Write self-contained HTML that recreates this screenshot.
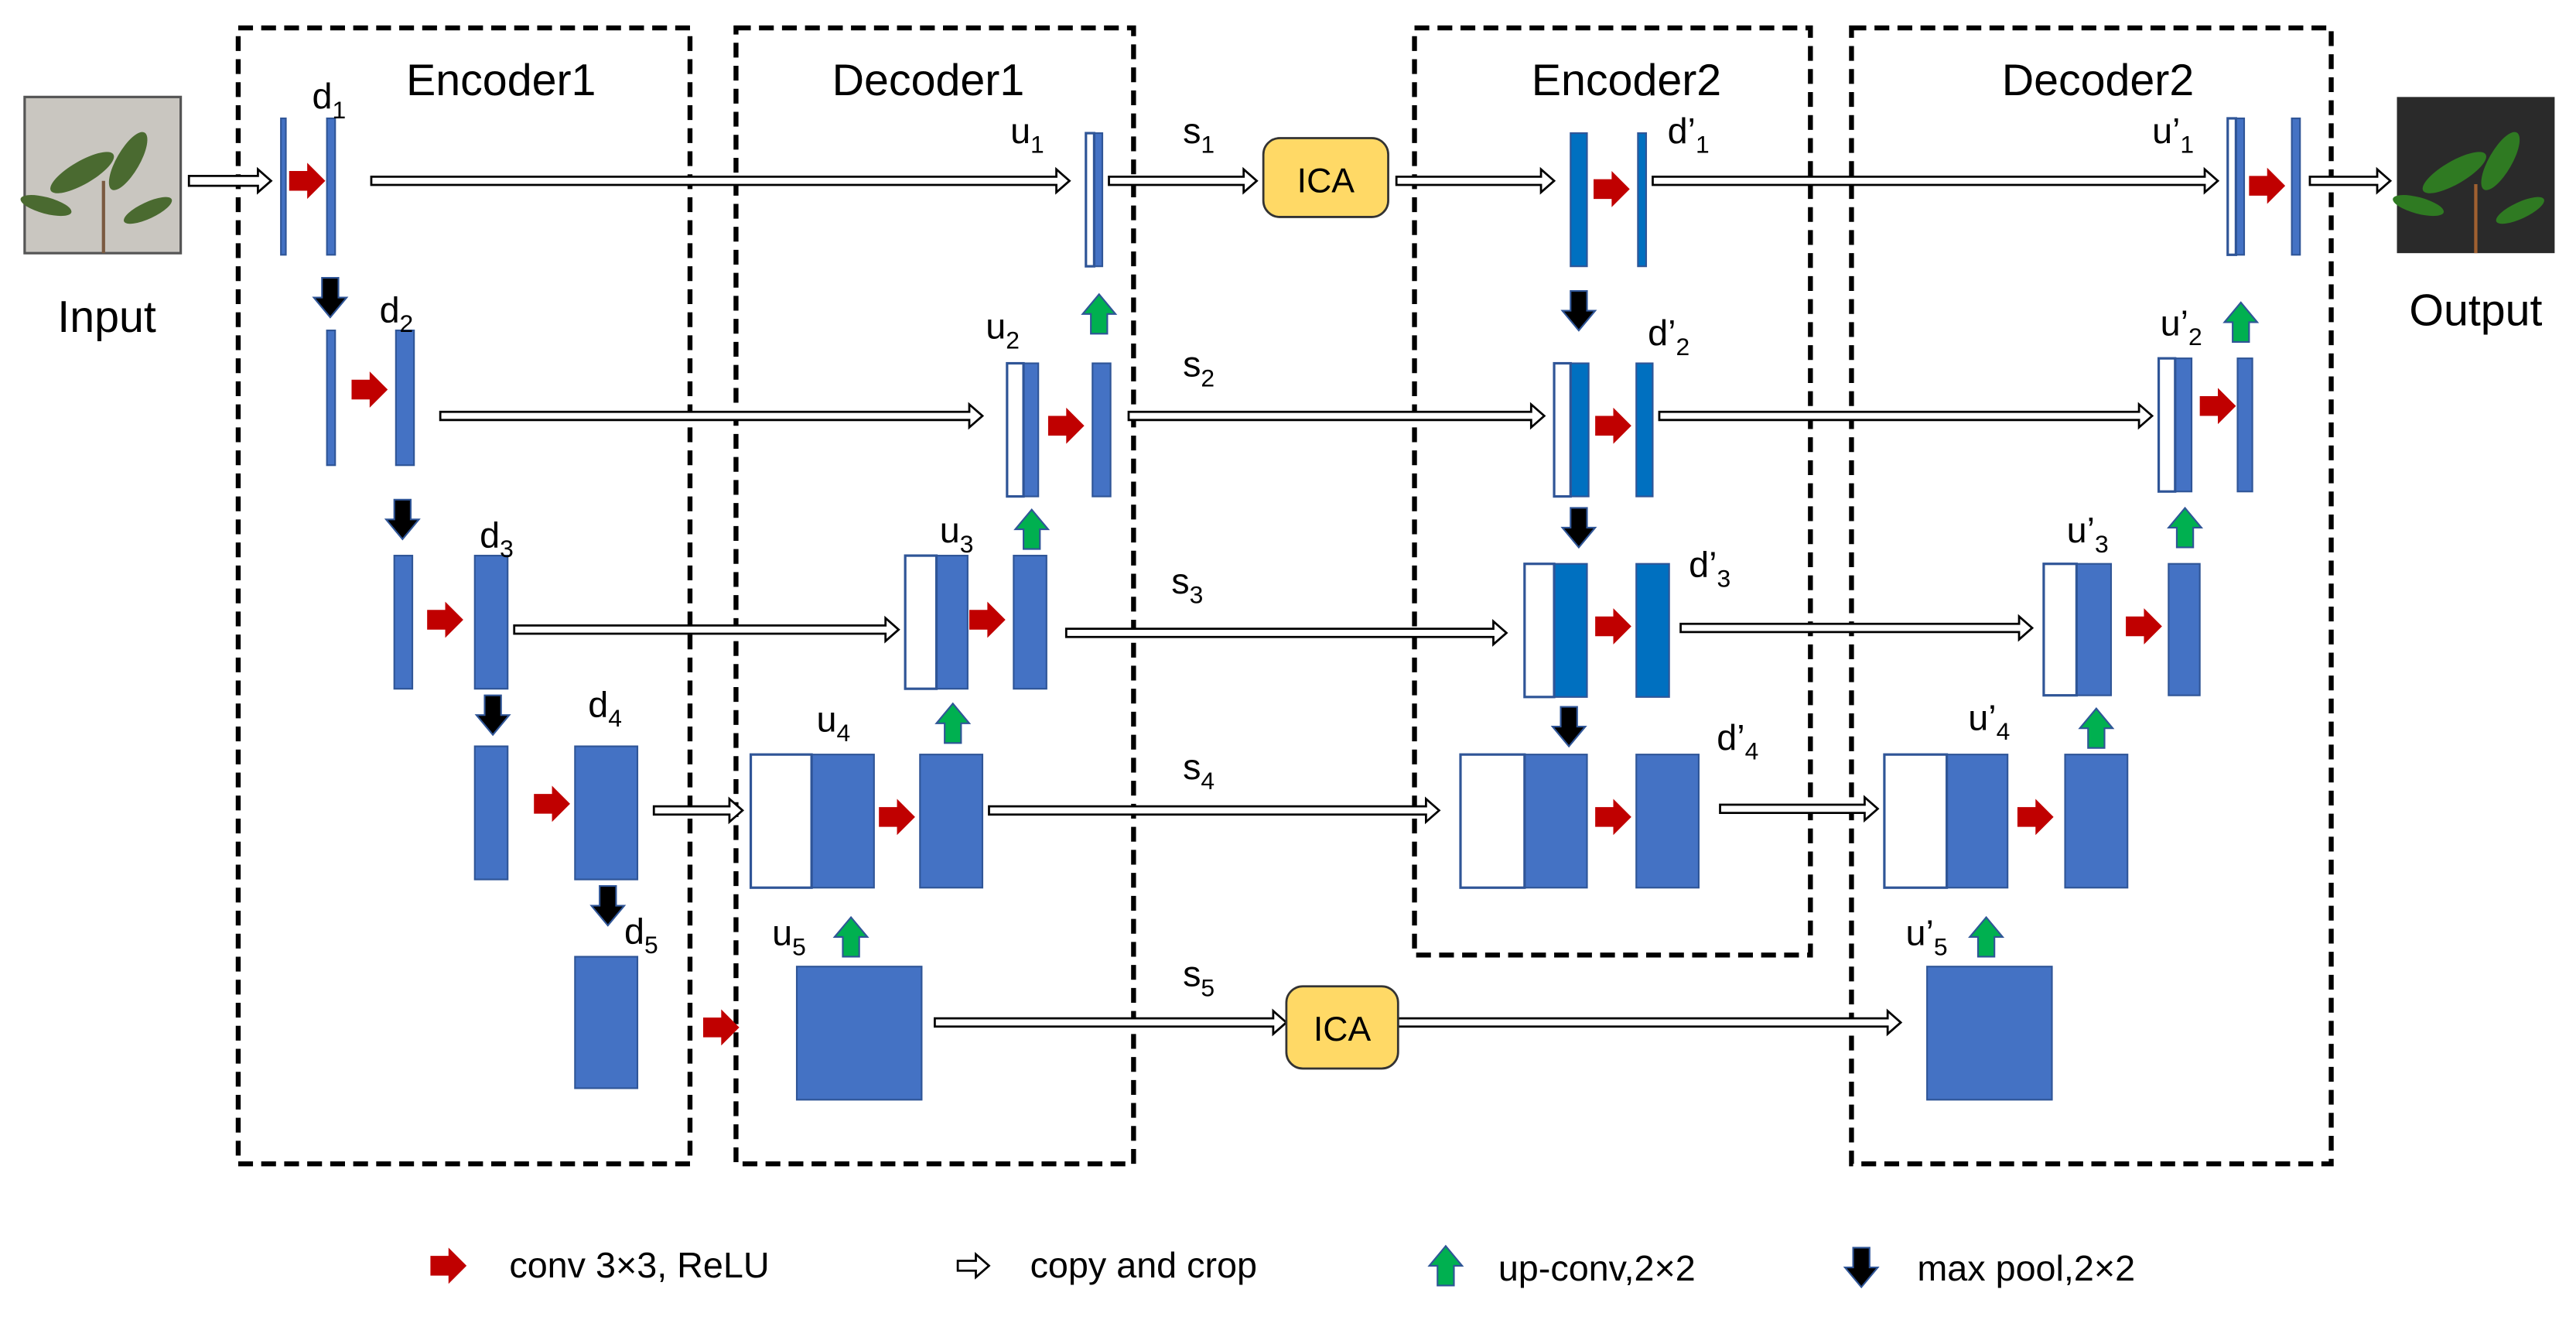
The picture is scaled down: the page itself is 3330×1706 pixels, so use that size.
<!DOCTYPE html>
<html><head><meta charset="utf-8"><style>
html,body{margin:0;padding:0;background:#fff}
svg{display:block}
text{font-family:"Liberation Sans",sans-serif;fill:#000}
</style></head><body>
<svg width="3330" height="1706" viewBox="0 0 1568 803" preserveAspectRatio="none" xmlns="http://www.w3.org/2000/svg">
<defs>
<path id="ra" d="M-11,-6 H0 V-11 L11,0 L0,11 V6 H-11Z" fill="#C00000"/>
<path id="ga" d="M-5,12 V0 H-10 L0,-12 L10,0 H5 V12Z" fill="#00B050" stroke="#2F5597" stroke-width="1"/>
<path id="ka" d="M-5,-12 V0 H-10 L0,12 L10,0 H5 V-12Z" fill="#000" stroke="#2F5597" stroke-width="1"/>
</defs>
<g fill="none" stroke="#000" stroke-width="3" stroke-dasharray="9,5">
<rect x="145" y="17" width="275" height="691"/>
<rect x="448" y="17" width="242" height="691"/>
<rect x="861" y="17" width="241" height="564"/>
<rect x="1127" y="17" width="292" height="691"/>
</g>
<g font-size="27" text-anchor="middle">
<text x="305" y="58">Encoder1</text>
<text x="565" y="58">Decoder1</text>
<text x="990" y="58">Encoder2</text>
<text x="1277" y="58">Decoder2</text>
<text x="65" y="202">Input</text>
<text x="1507" y="198">Output</text>
</g>
<!-- images -->
<rect x="15" y="59" width="95" height="95" fill="#c9c6c0" stroke="#555" stroke-width="1.5"/>
<g fill="#4a6a30">
<ellipse cx="50" cy="105" rx="22" ry="7" transform="rotate(-30 50 105)"/>
<ellipse cx="78" cy="98" rx="20" ry="7" transform="rotate(-60 78 98)"/>
<ellipse cx="28" cy="125" rx="16" ry="5" transform="rotate(15 28 125)"/>
<ellipse cx="90" cy="128" rx="16" ry="5" transform="rotate(-25 90 128)"/>
</g>
<line x1="63" y1="154" x2="63" y2="110" stroke="#7a5a40" stroke-width="2"/>
<rect x="1459" y="59" width="96" height="95" fill="#2a2a2a"/>
<g fill="#2f7a22">
<ellipse cx="1494" cy="105" rx="22" ry="7" transform="rotate(-30 1494 105)"/>
<ellipse cx="1522" cy="98" rx="20" ry="7" transform="rotate(-60 1522 98)"/>
<ellipse cx="1472" cy="125" rx="16" ry="5" transform="rotate(15 1472 125)"/>
<ellipse cx="1534" cy="128" rx="16" ry="5" transform="rotate(-25 1534 128)"/>
</g>
<line x1="1507" y1="154" x2="1507" y2="112" stroke="#a06030" stroke-width="2"/>
<!-- copy arrows -->
<g fill="#fff" stroke="#000" stroke-width="1.3">
<polygon points="115,107 157,107 157,103 165,110 157,117 157,113 115,113"/>
<polygon points="226,107.5 643,107.5 643,103 651,110 643,117 643,112.5 226,112.5"/>
<polygon points="675,107.5 757,107.5 757,103 765,110 757,117 757,112.5 675,112.5"/>
<polygon points="850,107.5 938,107.5 938,103 946,110 938,117 938,112.5 850,112.5"/>
<polygon points="1006,107.5 1342,107.5 1342,103 1350,110 1342,117 1342,112.5 1006,112.5"/>
<polygon points="1406,107.5 1447,107.5 1447,103 1455,110 1447,117 1447,112.5 1406,112.5"/>
<polygon points="268,250.5 590,250.5 590,246 598,253 590,260 590,255.5 268,255.5"/>
<polygon points="687,250.5 932,250.5 932,246 940,253 932,260 932,255.5 687,255.5"/>
<polygon points="1010,250.5 1302,250.5 1302,246 1310,253 1302,260 1302,255.5 1010,255.5"/>
<polygon points="313,380.5 539,380.5 539,376 547,383 539,390 539,385.5 313,385.5"/>
<polygon points="649,382.5 909,382.5 909,378 917,385 909,392 909,387.5 649,387.5"/>
<polygon points="1023,379.5 1229,379.5 1229,375 1237,382 1229,389 1229,384.5 1023,384.5"/>
<polygon points="398,490.5 444,490.5 444,486 452,493 444,500 444,495.5 398,495.5"/>
<polygon points="602,490.5 868,490.5 868,486 876,493 868,500 868,495.5 602,495.5"/>
<polygon points="1047,489.5 1135,489.5 1135,485 1143,492 1135,499 1135,494.5 1047,494.5"/>
<polygon points="569,619.5 775,619.5 775,615 783,622 775,629 775,624.5 569,624.5"/>
<polygon points="851,619.5 1149,619.5 1149,615 1157,622 1149,629 1149,624.5 851,624.5"/>
</g>
<!-- ICA -->
<rect x="769" y="84" width="76" height="48" rx="10" fill="#FFD966" stroke="#333" stroke-width="1.3"/>
<text x="807" y="117" font-size="21" text-anchor="middle">ICA</text>
<rect x="783" y="600" width="68" height="50" rx="10" fill="#FFD966" stroke="#333" stroke-width="1.3"/>
<text x="817" y="633" font-size="21" text-anchor="middle">ICA</text>
<!-- blue bars -->
<g fill="#4472C4" stroke="#2F5597" stroke-width="1">
<rect x="171" y="72" width="3" height="83"/>
<rect x="199" y="72" width="5" height="83"/>
<rect x="199" y="201" width="5" height="82"/>
<rect x="241" y="201" width="11" height="82"/>
<rect x="240" y="338" width="11" height="81"/>
<rect x="289" y="338" width="20" height="81"/>
<rect x="289" y="454" width="20" height="81"/>
<rect x="350" y="454" width="38" height="81"/>
<rect x="350" y="582" width="38" height="80"/>
<rect x="666" y="81" width="5" height="81"/>
<rect x="623" y="221" width="9" height="81"/>
<rect x="665" y="221" width="11" height="81"/>
<rect x="570" y="338" width="19" height="81"/>
<rect x="617" y="338" width="20" height="81"/>
<rect x="494" y="459" width="38" height="81"/>
<rect x="560" y="459" width="38" height="81"/>
<rect x="485" y="588" width="76" height="81"/>
<rect x="996" y="459" width="38" height="81"/>
<rect x="928" y="459" width="38" height="81"/>
<rect x="1361" y="72" width="5" height="83"/>
<rect x="1395" y="72" width="5" height="83"/>
<rect x="1324" y="218" width="10" height="81"/>
<rect x="1362" y="218" width="9" height="81"/>
<rect x="1264" y="343" width="21" height="80"/>
<rect x="1320" y="343" width="19" height="80"/>
<rect x="1185" y="459" width="37" height="81"/>
<rect x="1257" y="459" width="38" height="81"/>
<rect x="1173" y="588" width="76" height="81"/>
</g>
<g fill="#0070C0" stroke="#2F5597" stroke-width="1">
<rect x="956" y="81" width="10" height="81"/>
<rect x="997" y="81" width="5" height="81"/>
<rect x="956" y="221" width="11" height="81"/>
<rect x="996" y="221" width="10" height="81"/>
<rect x="946" y="343" width="20" height="81"/>
<rect x="996" y="343" width="20" height="81"/>
</g>
<g fill="#fff" stroke="#2F5597" stroke-width="1.5">
<rect x="661" y="81" width="5" height="81"/>
<rect x="613" y="221" width="10" height="81"/>
<rect x="551" y="338" width="19" height="81"/>
<rect x="457" y="459" width="37" height="81"/>
<rect x="946" y="221" width="10" height="81"/>
<rect x="928" y="343" width="18" height="81"/>
<rect x="889" y="459" width="39" height="81"/>
<rect x="1356" y="72" width="5" height="83"/>
<rect x="1314" y="218" width="10" height="81"/>
<rect x="1244" y="343" width="20" height="80"/>
<rect x="1147" y="459" width="38" height="81"/>
</g>
<!-- red conv arrows -->
<use href="#ra" x="187" y="110"/>
<use href="#ra" x="225" y="237"/>
<use href="#ra" x="271" y="377"/>
<use href="#ra" x="336" y="489"/>
<use href="#ra" x="439" y="625"/>
<use href="#ra" x="649" y="259"/>
<use href="#ra" x="601" y="377"/>
<use href="#ra" x="546" y="497"/>
<use href="#ra" x="981" y="115"/>
<use href="#ra" x="982" y="259"/>
<use href="#ra" x="982" y="381"/>
<use href="#ra" x="982" y="497"/>
<use href="#ra" x="1380" y="113"/>
<use href="#ra" x="1350" y="247"/>
<use href="#ra" x="1305" y="381"/>
<use href="#ra" x="1239" y="497"/>
<!-- green up -->
<use href="#ga" x="669" y="191"/>
<use href="#ga" x="628" y="322"/>
<use href="#ga" x="580" y="440"/>
<use href="#ga" x="518" y="570"/>
<use href="#ga" x="1364" y="196"/>
<use href="#ga" x="1330" y="321"/>
<use href="#ga" x="1276" y="443"/>
<use href="#ga" x="1209" y="570"/>
<!-- black down -->
<use href="#ka" x="201" y="181"/>
<use href="#ka" x="245" y="316"/>
<use href="#ka" x="300" y="435"/>
<use href="#ka" x="370" y="551"/>
<use href="#ka" x="961" y="189"/>
<use href="#ka" x="961" y="321"/>
<use href="#ka" x="955" y="442"/>
<!-- labels -->
<g font-size="22">
<text x="190" y="66">d<tspan font-size="15" dy="6">1</tspan></text>
<text x="231" y="196">d<tspan font-size="15" dy="6">2</tspan></text>
<text x="292" y="333">d<tspan font-size="15" dy="6">3</tspan></text>
<text x="358" y="436">d<tspan font-size="15" dy="6">4</tspan></text>
<text x="380" y="574">d<tspan font-size="15" dy="6">5</tspan></text>
<text x="615" y="87">u<tspan font-size="15" dy="6">1</tspan></text>
<text x="600" y="206">u<tspan font-size="15" dy="6">2</tspan></text>
<text x="572" y="330">u<tspan font-size="15" dy="6">3</tspan></text>
<text x="497" y="445">u<tspan font-size="15" dy="6">4</tspan></text>
<text x="470" y="575">u<tspan font-size="15" dy="6">5</tspan></text>
<text x="720" y="87">s<tspan font-size="15" dy="6">1</tspan></text>
<text x="720" y="229">s<tspan font-size="15" dy="6">2</tspan></text>
<text x="713" y="361">s<tspan font-size="15" dy="6">3</tspan></text>
<text x="720" y="474">s<tspan font-size="15" dy="6">4</tspan></text>
<text x="720" y="600">s<tspan font-size="15" dy="6">5</tspan></text>
<text x="1015" y="87">d’<tspan font-size="15" dy="6">1</tspan></text>
<text x="1003" y="210">d’<tspan font-size="15" dy="6">2</tspan></text>
<text x="1028" y="351">d’<tspan font-size="15" dy="6">3</tspan></text>
<text x="1045" y="456">d’<tspan font-size="15" dy="6">4</tspan></text>
<text x="1310" y="87">u’<tspan font-size="15" dy="6">1</tspan></text>
<text x="1315" y="204">u’<tspan font-size="15" dy="6">2</tspan></text>
<text x="1258" y="330">u’<tspan font-size="15" dy="6">3</tspan></text>
<text x="1198" y="444">u’<tspan font-size="15" dy="6">4</tspan></text>
<text x="1160" y="575">u’<tspan font-size="15" dy="6">5</tspan></text>
</g>
<!-- legend -->
<use href="#ra" x="273" y="770"/>
<text x="310" y="777" font-size="22">conv 3×3, ReLU</text>
<polygon points="583,767 594,767 594,763 602,770 594,777 594,773 583,773" fill="#fff" stroke="#000" stroke-width="1.3"/>
<text x="627" y="777" font-size="22">copy and crop</text>
<use href="#ga" x="880" y="770"/>
<text x="912" y="779" font-size="22">up-conv,2×2</text>
<use href="#ka" x="1133" y="771"/>
<text x="1167" y="779" font-size="22">max pool,2×2</text>
</svg>
</body></html>
